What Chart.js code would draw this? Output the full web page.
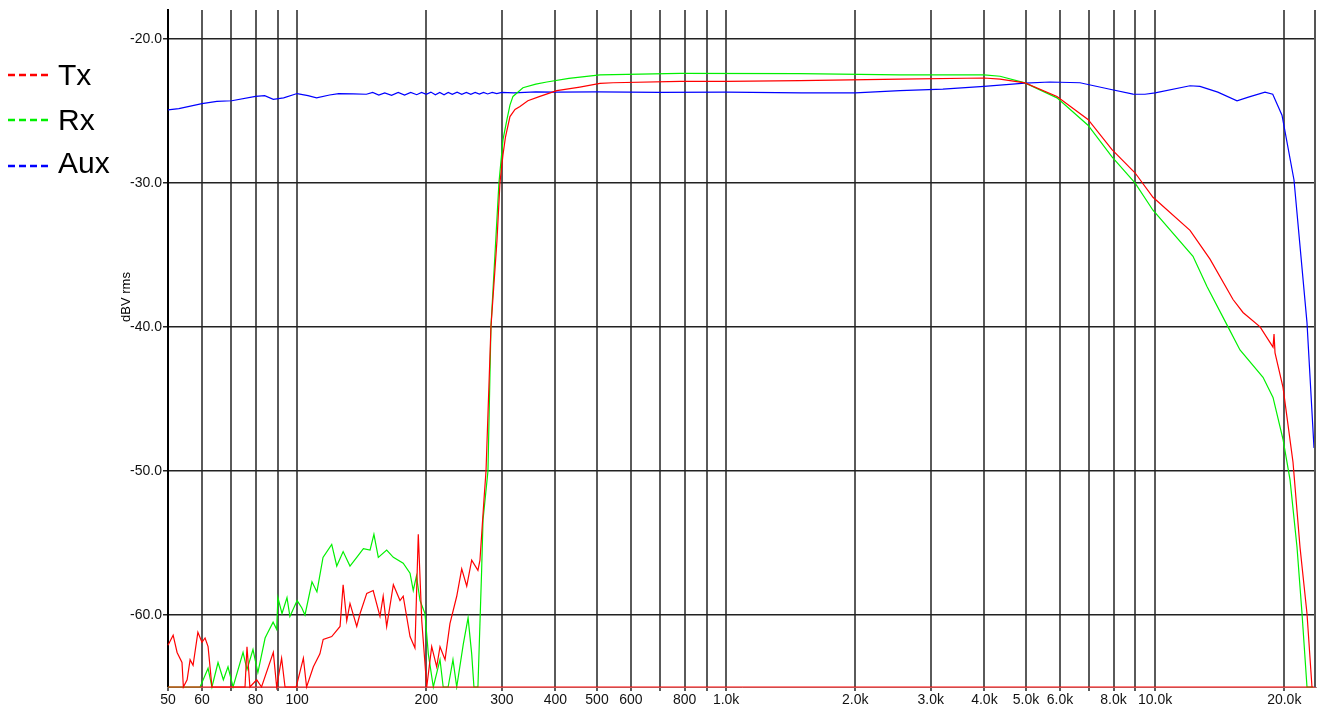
<!DOCTYPE html>
<html>
<head>
<meta charset="utf-8">
<title>Tx / Rx / Aux response</title>
<script src="https://cdn.jsdelivr.net/npm/chart.js@4"></script>
<style>
  html, body { margin: 0; padding: 0; background: #fff; }
  #chart { display: block; }
</style>
</head>
<body>
<canvas id="chart" width="1323" height="713"></canvas>
<script>
// x grid + labels (empty label = grid line only)
const gridFreqs = [50, 60, 70, 80, 90, 100, 200, 300, 400, 500, 600, 700, 800, 900,
  1000, 2000, 3000, 4000, 5000, 6000, 7000, 8000, 9000, 10000, 20000];
const freqLabels = ['50', '60', '', '80', '', '100', '200', '300', '400', '500', '600', '', '800', '',
  '1.0k', '2.0k', '3.0k', '4.0k', '5.0k', '6.0k', '', '8.0k', '', '10.0k', '20.0k'];
const levelTicks = [-60, -50, -40, -30, -20];

const seriesNames = ['Tx', 'Rx', 'Aux'];
const seriesColors = ['#ff0000', '#00f000', '#0000ff'];

// [Hz, dBV]
const txPoints = [
  [50, -62.1], [51.4, -61.4], [52.5, -62.6], [53.9, -63.3], [54.3, -65], [55.4, -64.5], [56.3, -63.1],
  [57.2, -63.5], [58.7, -61.2], [60, -61.9], [61, -61.6], [62, -62.2], [63.3, -65], [75.6, -65],
  [76.4, -62.2], [77.6, -65], [80.5, -64.5], [82.6, -65], [88, -62.6], [89.6, -65], [92, -63.0],
  [93.7, -65], [99.5, -65], [103.4, -63.0], [105.2, -65], [109.1, -63.6], [113, -62.7], [115, -61.7],
  [120.4, -61.5], [125.9, -60.8], [128, -57.9], [130.5, -60.4], [132.8, -59.2], [137.7, -60.8],
  [140.2, -59.9], [145.3, -58.5], [150.4, -58.3], [156, -60.1], [158.7, -58.7], [161.7, -60.8],
  [167.6, -57.9], [173.7, -59.0], [176.7, -58.7], [183.3, -61.5], [188.2, -62.3], [191.6, -54.4],
  [195.2, -60.4], [200.5, -65], [205.9, -62.2], [211.5, -63.6], [215.3, -62.2], [221.2, -63.1],
  [227.1, -60.6], [235.5, -58.7], [241.9, -56.8], [248.5, -58.0], [255.2, -56.2], [263.9, -56.9],
  [266.8, -56.2], [272.6, -52], [275.6, -50], [283, -40], [292.3, -34], [297, -30], [302, -28],
  [306, -26.8], [313.4, -25.4], [322, -24.9], [330.7, -24.7], [345, -24.3], [368, -24.0],
  [403, -23.6], [456, -23.35], [508, -23.1], [545, -23.05], [781, -22.95], [1000, -22.95], [1486, -22.9],
  [2543, -22.8], [3992, -22.72], [4350, -22.8], [4973, -23.06], [5905, -24.0], [6975, -25.6],
  [7934, -27.7], [8975, -29.3], [9886, -31.0], [12060, -33.3], [13426, -35.3], [15192, -38.1],
  [16027, -39.0], [17565, -40.0], [18828, -41.4], [18931, -40.5], [19032, -41.8], [19866, -44.2],
  [20961, -49.4], [21764, -55.3], [22594, -59.9], [23208, -65]
];

const rxPoints = [
  [50, -65], [59.4, -65], [62, -63.7], [63.3, -65], [65.4, -63.3], [67.3, -64.5], [69, -63.6],
  [70.9, -65], [74.8, -62.6], [76.4, -63.8], [78.9, -62.4], [81, -64.0], [84.2, -61.6], [85.5, -61.2],
  [87.9, -60.5], [89.6, -61.0], [90.2, -58.8], [92.2, -59.9], [94.7, -58.8], [96.2, -60.1],
  [100, -59.0], [102.5, -59.5], [104.3, -60.0], [108.3, -57.7], [111.2, -58.4], [114.9, -56.0],
  [120.4, -55.1], [123.7, -56.6], [128, -55.6], [132.8, -56.6], [137.7, -56.0], [142.7, -55.4],
  [147.9, -55.5], [151, -54.4], [154.6, -56.0], [161.7, -55.5], [167.6, -56.0], [176.7, -56.4],
  [183.3, -57.1], [186.5, -58.3], [189.7, -57.3], [193.4, -59.0], [198.6, -59.9], [202.2, -62.7],
  [207.7, -65], [215.3, -63.1], [219, -65], [224.9, -65], [230.8, -63.1], [235.5, -65], [244, -62.0],
  [250.3, -60.2], [255.2, -62.7], [258.3, -65], [263.9, -65], [269.2, -56.9], [271.2, -53.4],
  [278.5, -50], [283, -40], [295.4, -30], [301.9, -27], [308.4, -25.6], [313.4, -24.6],
  [318.5, -24.0], [336, -23.4], [360, -23.15], [382, -23.0], [430, -22.75], [508, -22.5], [781, -22.4],
  [1486, -22.42], [2543, -22.5], [3992, -22.5], [4350, -22.6], [4973, -23.06], [5905, -24.1],
  [6975, -26.0], [7934, -28.2], [8975, -30.0], [9886, -31.9], [12254, -35.1], [13209, -37.2],
  [14788, -40.0], [15770, -41.6], [17845, -43.5], [18828, -44.9], [19866, -47.8], [20626, -50.6],
  [21416, -55.3], [21999, -59.9], [22594, -65], [23334, -65]
];

const auxPoints = [
  [50, -24.93], [53, -24.85], [60, -24.5], [65, -24.35], [70.4, -24.3], [80, -24.0], [84, -23.95],
  [88, -24.2], [93, -24.1], [100, -23.8], [106, -23.95], [111, -24.1], [119, -23.9], [125, -23.8],
  [135, -23.82], [145, -23.85], [150, -23.72], [155, -23.9], [160, -23.75], [166, -23.92],
  [172, -23.72], [178, -23.9], [184, -23.72], [190, -23.88], [195, -23.72], [200, -23.85],
  [205, -23.7], [210, -23.88], [215, -23.72], [220, -23.88], [225, -23.72], [230, -23.86],
  [236, -23.7], [242, -23.85], [248, -23.72], [254, -23.85], [260, -23.72], [266, -23.84],
  [272, -23.72], [278, -23.83], [285, -23.72], [292, -23.8], [300, -23.72], [320, -23.75],
  [360, -23.68], [400, -23.7], [500, -23.68], [700, -23.72], [1000, -23.7], [1500, -23.75],
  [2000, -23.75], [2543, -23.6], [3200, -23.5], [3992, -23.3], [4973, -23.08], [5686, -23.0],
  [6681, -23.05], [7847, -23.5], [8882, -23.84], [9469, -23.85], [10000, -23.75], [12060, -23.26],
  [12722, -23.3], [14000, -23.7], [15520, -24.3], [16500, -24.05], [18036, -23.7], [18800, -23.85],
  [19758, -25.3], [21073, -29.8], [22594, -39.7], [23460, -48.4]
];

// red trace lying on the bottom of the range
const floorPoints = [[50, -65], [23700, -65]];

const toXY = (pts) => pts.map(([x, y]) => ({ x, y }));

// legend + y title drawn next to the plot
const sideText = {
  id: 'sideText',
  afterDraw(chart) {
    const { ctx, chartArea } = chart;
    ctx.save();
    seriesNames.forEach((name, i) => {
      const y = [75, 120, 166][i];
      ctx.strokeStyle = seriesColors[i];
      ctx.lineWidth = 2.5;
      ctx.setLineDash([7, 4]);
      ctx.beginPath();
      ctx.moveTo(8, y);
      ctx.lineTo(48, y);
      ctx.stroke();
      ctx.setLineDash([]);
      ctx.fillStyle = '#000';
      ctx.font = '30px "Liberation Sans", Arial, sans-serif';
      ctx.textBaseline = 'alphabetic';
      ctx.fillText(name, 58, [85, 130, 173][i]);
    });
    // y title
    ctx.translate(126, 297);
    ctx.rotate(-Math.PI / 2);
    ctx.font = '13px "Liberation Sans", Arial, sans-serif';
    ctx.textAlign = 'center';
    ctx.textBaseline = 'middle';
    ctx.fillText('dBV rms', 0, 0);
    ctx.restore();
    // right frame
    ctx.save();
    ctx.strokeStyle = '#555';
    ctx.lineWidth = 2;
    ctx.beginPath();
    ctx.moveTo(chartArea.right - 1, chartArea.top);
    ctx.lineTo(chartArea.right - 1, chartArea.bottom);
    ctx.stroke();
    ctx.restore();
  }
};

const lineDs = (label, pts, color, order) => ({
  label,
  data: toXY(pts),
  borderColor: color,
  backgroundColor: color,
  borderWidth: 1.2,
  pointRadius: 0,
  tension: 0,
  fill: false,
  clip: 3,
  order,
});

new Chart(document.getElementById('chart'), {
  type: 'line',
  data: {
    datasets: [
      lineDs('floor', floorPoints, seriesColors[0], 0),
      lineDs(seriesNames[0], txPoints, seriesColors[0], 1),
      lineDs(seriesNames[1], rxPoints, seriesColors[1], 2),
      lineDs(seriesNames[2], auxPoints, seriesColors[2], 3),
    ],
  },
  options: {
    responsive: false,
    animation: false,
    events: [],
    layout: { padding: { left: 0, top: 10, right: 7, bottom: 0 } },
    plugins: { legend: { display: false }, tooltip: { enabled: false } },
    scales: {
      x: {
        type: 'logarithmic',
        min: 50,
        max: 23714,
        afterBuildTicks: (scale) => { scale.ticks = gridFreqs.map(v => ({ value: v })); },
        afterFit: (scale) => { scale.height = 26; },
        ticks: {
          autoSkip: false,
          maxRotation: 0,
          padding: 1,
          color: '#111',
          font: { family: '"Liberation Sans", Arial, sans-serif', size: 14 },
          callback: (v, i) => freqLabels[i],
        },
        grid: { color: '#5a5a5a', lineWidth: 2, tickLength: 4 },
        border: { color: '#999', width: 1 },
      },
      y: {
        min: -65,
        max: -18,
        afterBuildTicks: (scale) => { scale.ticks = levelTicks.map(v => ({ value: v })); },
        afterFit: (scale) => { scale.width = 168; },
        ticks: {
          padding: 1,
          color: '#111',
          font: { family: '"Liberation Sans", Arial, sans-serif', size: 14 },
          callback: (v) => Number(v).toFixed(1),
        },
        grid: { color: '#222', lineWidth: 1.5, tickLength: 5 },
        border: { color: '#000', width: 2 },
      },
    },
  },
  plugins: [sideText],
});
</script>
</body>
</html>
